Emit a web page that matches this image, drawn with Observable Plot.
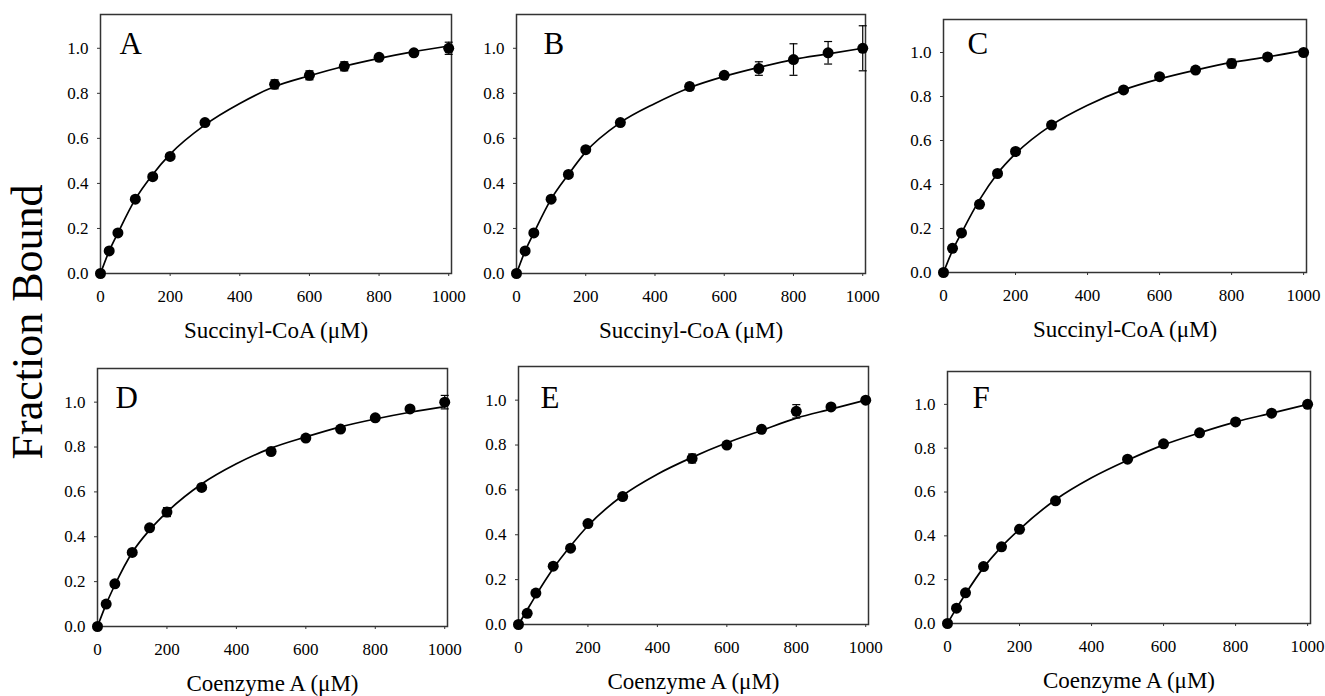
<!DOCTYPE html>
<html>
<head>
<meta charset="utf-8">
<script src="https://cdn.jsdelivr.net/npm/d3@7"></script>
<script src="https://cdn.jsdelivr.net/npm/@observablehq/plot@0.6"></script>
<style>
  html, body { margin: 0; padding: 0; background: #fff; }
  #root { position: relative; width: 1325px; height: 696px; overflow: hidden; background: #fff;
          font-family: "Liberation Serif", "Times New Roman", serif; }
  #root svg { position: absolute; overflow: visible; }
  #root svg text { font-family: "Liberation Serif", "Times New Roman", serif !important; }
  #root svg g[aria-label$="tick label"] text { font-size: 17px !important; }
  #ylab { position: absolute; left: 27px; top: 322px; transform: translate(-50%, -50%) rotate(-90deg);
          white-space: nowrap; font-size: 44px; color: #000; font-family: "Liberation Serif", "Times New Roman", serif; }
</style>
</head>
<body>
<div id="root"><div id="ylab">Fraction Bound</div></div>
<script>
// ---- data ----
const conc = [0, 25, 50, 100, 150, 200, 300, 500, 600, 700, 800, 900, 1000];
const fitConc = [0, 25, 50, 100, 150, 200, 300, 400, 500, 600, 700, 800, 900, 1000];
const xTicks = [0, 200, 400, 600, 800, 1000];
const yTicks = [0, 0.2, 0.4, 0.6, 0.8, 1.0];
const panelLetters = ["A", "B", "C", "D", "E", "F"];
const xTitles = ["Succinyl-CoA (μM)", "Succinyl-CoA (μM)", "Succinyl-CoA (μM)",
                 "Coenzyme A (μM)", "Coenzyme A (μM)", "Coenzyme A (μM)"];
const yTitle = "Fraction Bound";

const boundA = [0, 0.10, 0.18, 0.33, 0.43, 0.52, 0.67, 0.84, 0.88, 0.92, 0.96, 0.98, 1.00];
const errA   = [0, 0.01, 0.01, 0.01, 0.01, 0.01, 0.01, 0.02, 0.02, 0.02, 0.01, 0.01, 0.027];
const fitA   = [0, 0.10, 0.18, 0.33, 0.44, 0.53, 0.66, 0.755, 0.83, 0.878, 0.92, 0.955, 0.985, 1.01];

const boundB = [0, 0.10, 0.18, 0.33, 0.44, 0.55, 0.67, 0.83, 0.88, 0.91, 0.95, 0.98, 1.00];
const errB   = [0, 0.01, 0.01, 0.01, 0.01, 0.01, 0.01, 0.015, 0.01, 0.03, 0.07, 0.05, 0.10];
const fitB   = [0, 0.10, 0.18, 0.33, 0.44, 0.54, 0.67, 0.755, 0.825, 0.875, 0.915, 0.95, 0.975, 1.00];

const boundC = [0, 0.11, 0.18, 0.31, 0.45, 0.55, 0.67, 0.83, 0.89, 0.92, 0.95, 0.98, 1.00];
const errC   = [0, 0.01, 0.01, 0.01, 0.01, 0.01, 0.01, 0.01, 0.01, 0.01, 0.02, 0.015, 0.01];
const fitC   = [0, 0.10, 0.18, 0.33, 0.45, 0.54, 0.67, 0.76, 0.83, 0.88, 0.92, 0.955, 0.98, 1.01];

const boundD = [0, 0.10, 0.19, 0.33, 0.44, 0.51, 0.62, 0.78, 0.84, 0.88, 0.93, 0.97, 1.00];
const errD   = [0, 0.01, 0.01, 0.01, 0.01, 0.02, 0.01, 0.01, 0.01, 0.01, 0.01, 0.01, 0.03];
const fitD   = [0, 0.10, 0.185, 0.33, 0.43, 0.51, 0.635, 0.725, 0.795, 0.845, 0.89, 0.925, 0.955, 0.98];

const boundE = [0, 0.05, 0.14, 0.26, 0.34, 0.45, 0.57, 0.74, 0.80, 0.87, 0.95, 0.97, 1.00];
const errE   = [0, 0.01, 0.01, 0.01, 0.01, 0.01, 0.01, 0.02, 0.01, 0.01, 0.03, 0.01, 0.01];
const fitE   = [0, 0.065, 0.13, 0.25, 0.35, 0.44, 0.575, 0.67, 0.745, 0.81, 0.865, 0.92, 0.96, 1.00];

const boundF = [0, 0.07, 0.14, 0.26, 0.35, 0.43, 0.56, 0.75, 0.82, 0.87, 0.92, 0.96, 1.00];
const errF   = [0, 0.01, 0.01, 0.01, 0.01, 0.01, 0.01, 0.01, 0.01, 0.01, 0.01, 0.01, 0.01];
const fitF   = [0, 0.07, 0.135, 0.255, 0.35, 0.43, 0.565, 0.665, 0.745, 0.815, 0.87, 0.92, 0.96, 1.00];

const series = [
  {bound: boundA, err: errA, fit: fitA},
  {bound: boundB, err: errB, fit: fitB},
  {bound: boundC, err: errC, fit: fitC},
  {bound: boundD, err: errD, fit: fitD},
  {bound: boundE, err: errE, fit: fitE},
  {bound: boundF, err: errF, fit: fitF}
];

// ---- layout (frame pixel boxes and letter offsets) ----
const layout = [
  {left: 100, top: 14, right: 451, bottom: 273, ldx: 19, ldy: 39},
  {left: 516, top: 14, right: 865, bottom: 273, ldx: 27, ldy: 39},
  {left: 943, top: 19, right: 1306, bottom: 272, ldx: 24, ldy: 34},
  {left: 97, top: 368, right: 447, bottom: 626, ldx: 18, ldy: 39},
  {left: 518, top: 366, right: 868, bottom: 624, ldx: 22, ldy: 41},
  {left: 947, top: 371, right: 1310, bottom: 623, ldx: 25, ldy: 36}
];

const serif = '"Liberation Serif", "Times New Roman", serif';

const capSymbol = {
  draw(ctx, size) {
    const w = Math.sqrt(size / Math.PI);
    ctx.moveTo(-w, 0);
    ctx.lineTo(w, 0);
  }
};

const root = document.getElementById("root");
const mL = 60, mR = 20, mT = 10, mB = 75;

series.forEach((s, k) => {
  const L = layout[k];
  const fw = L.right - L.left, fh = L.bottom - L.top;
  const pts = conc.map((x, i) => ({x, y: s.bound[i], e: s.err[i]}));
  const fit = fitConc.map((x, i) => ({x, y: s.fit[i]}));
  const chart = Plot.plot({
    width: fw + mL + mR,
    height: fh + mT + mB,
    marginLeft: mL, marginRight: mR, marginTop: mT, marginBottom: mB,
    style: {fontFamily: serif, fontSize: "17px", color: "#000", background: "transparent", overflow: "visible"},
    x: {domain: [0, 1008]},
    y: {domain: [0, 1.15]},
    marks: [
      Plot.axisX({ticks: xTicks, tickSize: 3, tickPadding: 13, label: null, tickFormat: d => String(d), fontSize: 17, fontFamily: serif, stroke: "#333", fill: "#000"}),
      Plot.axisY({ticks: yTicks, tickSize: 3, tickPadding: 9, label: null, tickFormat: d3.format(".1f"), fontSize: 17, fontFamily: serif, stroke: "#333", fill: "#000"}),
      Plot.frame({stroke: "#333", strokeWidth: 1.5}),
      Plot.line(fit, {x: "x", y: "y", curve: "monotone-x", stroke: "#000", strokeWidth: 1.7}),
      Plot.ruleX(pts, {x: "x", y1: d => d.y - d.e, y2: d => d.y + d.e, stroke: "#000", strokeWidth: 1.2}),
      Plot.dot(pts, {x: "x", y: d => d.y - d.e, symbol: capSymbol, r: 4, fill: "none", stroke: "#000", strokeWidth: 1.2}),
      Plot.dot(pts, {x: "x", y: d => d.y + d.e, symbol: capSymbol, r: 4, fill: "none", stroke: "#000", strokeWidth: 1.2}),
      Plot.dot(pts, {x: "x", y: "y", r: 5.5, fill: "#000", stroke: "none"}),
      Plot.text([panelLetters[k]], {text: d => d, frameAnchor: "top-left", dx: L.ldx, dy: L.ldy, lineAnchor: "bottom", textAnchor: "start", fontSize: 31, fontFamily: serif, fill: "#000"}),
      Plot.text([xTitles[k]], {text: d => d, frameAnchor: "bottom", dy: 64, lineAnchor: "bottom", fontSize: 23, fontFamily: serif, fill: "#000"})
    ]
  });
  chart.style.left = (L.left - mL) + "px";
  chart.style.top = (L.top - mT) + "px";
  root.appendChild(chart);
});
</script>
</body>
</html>
